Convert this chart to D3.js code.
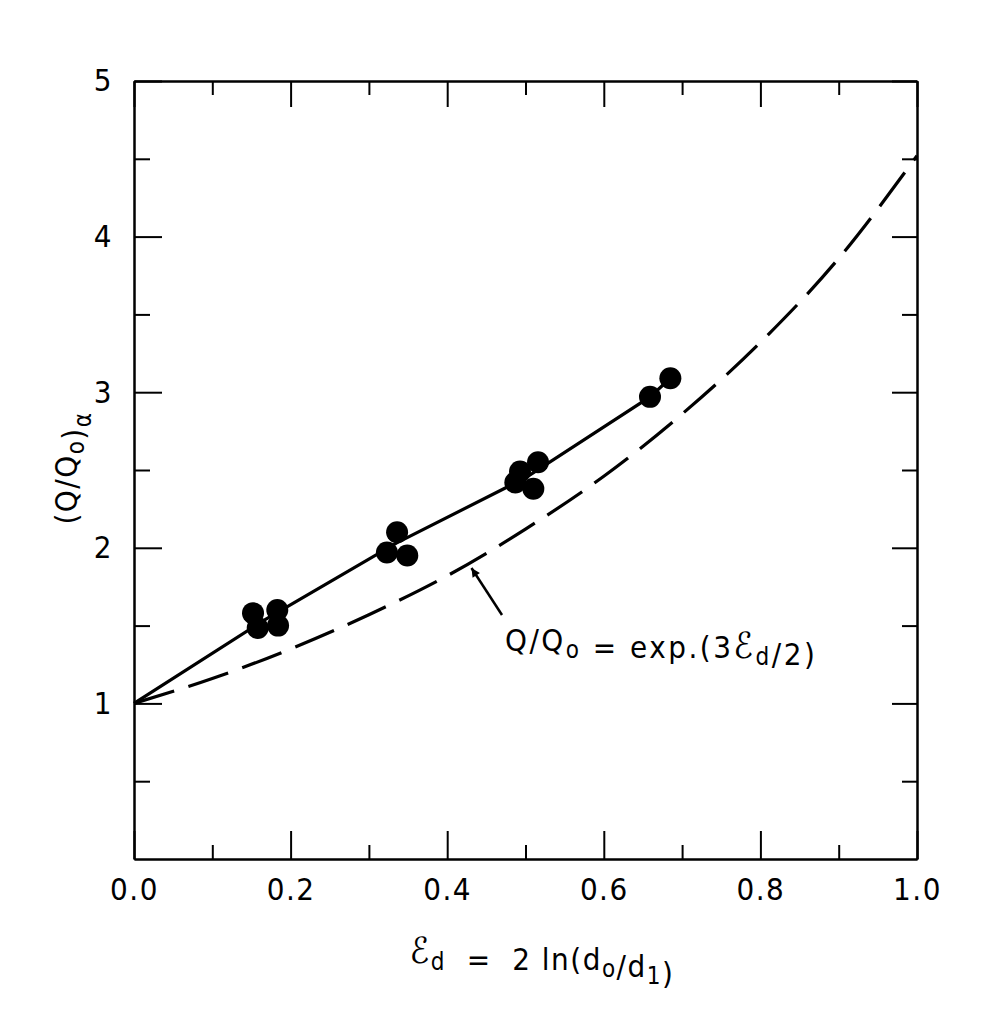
<!DOCTYPE html>
<html>
<head>
<meta charset="utf-8">
<script src="https://cdn.jsdelivr.net/npm/d3@7"></script>
<style>
  body { margin: 0; background: #fff; }
  text { font-family: "DejaVu Sans Condensed", "DejaVu Sans", sans-serif; font-stretch: condensed; fill: #000; }
</style>
</head>
<body>
<script>
const strainX = [0.152, 0.183, 0.158, 0.184, 0.336, 0.323, 0.349, 0.516, 0.493, 0.487, 0.510, 0.659, 0.685]
const ratioY  = [1.58, 1.60, 1.485, 1.50, 2.10, 1.97, 1.95, 2.55, 2.49, 2.42, 2.38, 2.97, 3.09]

// solid line drawn through the clusters
const fitX = [0, 0.168, 0.335, 0.50, 0.659, 0.685]
const fitY = [1.0, 1.54, 2.03, 2.45, 2.97, 3.09]

// dashed curve Q/Q0 = exp(3e/2)
const theoryX = [0, 0.1, 0.2, 0.3, 0.4, 0.5, 0.6, 0.7, 0.8, 0.9, 1.0]
const theoryY = [1.0, 1.16, 1.35, 1.57, 1.82, 2.12, 2.46, 2.86, 3.32, 3.86, 4.52]

const xMajor = [0, 0.2, 0.4, 0.6, 0.8, 1.0]
const xMinor = [0.1, 0.3, 0.5, 0.7, 0.9]
const xLabels = ["0.0", "0.2", "0.4", "0.6", "0.8", "1.0"]
const yMajor = [1, 2, 3, 4, 5]
const yMinor = [0.5, 1.5, 2.5, 3.5, 4.5]
const yLabels = ["1", "2", "3", "4", "5"]

// arrow of the annotation: [x, y] tail then tip
const arrowFrom = [0.470, 1.568]
const arrowTo = [0.431, 1.87]

const svg = d3.select("body")
              .append("svg")
              .attr("width", 992)
              .attr("height", 1021)

const x = d3.scaleLinear().domain([0, 1]).range([134, 917])
const y = d3.scaleLinear().domain([0, 5]).range([859, 81])

const fontSize = 31

const styleAxis = g => {
    g.select(".domain").attr("stroke", "#000").attr("stroke-width", 2)
    g.selectAll(".tick line").attr("stroke", "#000").attr("stroke-width", 2)
    g.selectAll(".tick text").style("font-size", fontSize + "px")
       .style("letter-spacing", "1.5px")
       .style("font-family", "'DejaVu Sans Condensed', 'DejaVu Sans', sans-serif")
}

// bottom
svg.append("g").attr("transform", "translate(0,859)")
   .call(d3.axisBottom(x).tickValues(xMinor).tickSize(-14).tickSizeOuter(0).tickFormat(""))
   .call(styleAxis)
svg.append("g").attr("transform", "translate(0,859)")
   .call(d3.axisBottom(x).tickValues(xMajor).tickSize(-28).tickSizeOuter(0).tickPadding(19)
           .tickFormat((d, i) => xLabels[i]))
   .call(styleAxis)

// top
svg.append("g").attr("transform", "translate(0,81)")
   .call(d3.axisTop(x).tickValues(xMinor).tickSize(-14).tickSizeOuter(0).tickFormat(""))
   .call(styleAxis)
svg.append("g").attr("transform", "translate(0,81)")
   .call(d3.axisTop(x).tickValues(xMajor).tickSize(-26).tickSizeOuter(0).tickFormat(""))
   .call(styleAxis)

// left
svg.append("g").attr("transform", "translate(134,0)")
   .call(d3.axisLeft(y).tickValues(yMinor).tickSize(-16).tickSizeOuter(0).tickFormat(""))
   .call(styleAxis)
svg.append("g").attr("transform", "translate(134,0)")
   .call(d3.axisLeft(y).tickValues(yMajor).tickSize(-28).tickSizeOuter(0).tickPadding(21)
           .tickFormat((d, i) => yLabels[i]))
   .call(styleAxis)

// right
svg.append("g").attr("transform", "translate(917,0)")
   .call(d3.axisRight(y).tickValues(yMinor).tickSize(-15).tickSizeOuter(0).tickFormat(""))
   .call(styleAxis)
svg.append("g").attr("transform", "translate(917,0)")
   .call(d3.axisRight(y).tickValues(yMajor).tickSize(-25).tickSizeOuter(0).tickFormat(""))
   .call(styleAxis)

// dashed theory curve
const theory = theoryX.map((d, i) => [d, theoryY[i]])
svg.append("path")
   .datum(theory)
   .attr("fill", "none")
   .attr("stroke", "#000")
   .attr("stroke-width", 3.2)
   .attr("stroke-dasharray", "42,15")
   .attr("d", d3.line().x(d => x(d[0])).y(d => y(d[1])).curve(d3.curveMonotoneX))

// solid line
const fit = fitX.map((d, i) => [d, fitY[i]])
svg.append("path")
   .datum(fit)
   .attr("fill", "none")
   .attr("stroke", "#000")
   .attr("stroke-width", 3.2)
   .attr("d", d3.line().x(d => x(d[0])).y(d => y(d[1])))

// points
svg.append("g")
   .selectAll("circle")
   .data(strainX.map((d, i) => [d, ratioY[i]]))
   .enter()
   .append("circle")
   .attr("cx", d => x(d[0]))
   .attr("cy", d => y(d[1]))
   .attr("r", 11)
   .attr("fill", "#000")

// annotation arrow
svg.append("defs").append("marker")
   .attr("id", "head")
   .attr("viewBox", "0 0 10 10")
   .attr("refX", 10).attr("refY", 5)
   .attr("markerWidth", 6).attr("markerHeight", 3.5)
   .attr("orient", "auto")
   .append("path")
   .attr("d", "M0,0 L10,5 L0,10 Z")
   .attr("fill", "#000")

svg.append("line")
   .attr("x1", x(arrowFrom[0])).attr("y1", y(arrowFrom[1]))
   .attr("x2", x(arrowTo[0])).attr("y2", y(arrowTo[1]))
   .attr("stroke", "#000")
   .attr("stroke-width", 2.5)
   .attr("marker-end", "url(#head)")

const sub = (t, s) => {
    t.append("tspan").attr("dy", 7).style("font-size", "24px").text(s)
    t.append("tspan").attr("dy", -7).text("")
}
const eps = t => t.append("tspan").style("font-size", "36px").text("ℰ")

// annotation text
const note = svg.append("text")
                .attr("x", 505).attr("y", 651)
                .style("font-size", fontSize + "px")
                .style("letter-spacing", "2.5px")
                .style("white-space", "pre")
note.append("tspan").text("Q/Q")
sub(note, "o")
note.append("tspan").text(" = exp.(3")
eps(note)
sub(note, "d")
note.append("tspan").text("/2)")

// x title
const xt = svg.append("text")
              .attr("x", 542).attr("y", 963)
              .attr("text-anchor", "middle")
              .style("font-size", fontSize + "px")
              .style("letter-spacing", "1.5px")
              .style("white-space", "pre")
eps(xt)
sub(xt, "d")
xt.append("tspan").text("  =  2 ln(d")
sub(xt, "o")
xt.append("tspan").text("/d")
sub(xt, "1")
xt.append("tspan").text(")")

// y title
const yt = svg.append("text")
              .attr("transform", "translate(77,468) rotate(-90)")
              .attr("text-anchor", "middle")
              .style("font-size", fontSize + "px")
              .style("letter-spacing", "1.5px")
yt.append("tspan").text("(Q/Q")
sub(yt, "o")
yt.append("tspan").text(")")
sub(yt, "α")
</script>
</body>
</html>
